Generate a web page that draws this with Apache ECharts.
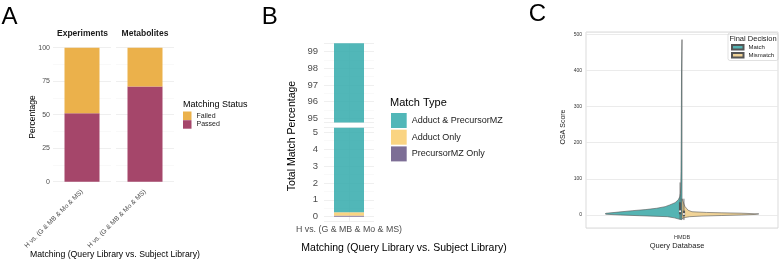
<!DOCTYPE html>
<html>
<head>
<meta charset="utf-8">
<script src="https://cdn.jsdelivr.net/npm/echarts@6/dist/echarts.min.js"></script>
<style>
  html, body { margin: 0; padding: 0; background: #fff; }
  #chart { width: 779px; height: 260px; }
</style>
</head>
<body>
<div id="chart"></div>
<script>
// ---- panel A: matching status per facet ----
const facets = ['Experiments', 'Metabolites'];
const comparison = ['H vs. (G & MB & Mo & MS)'];
const passedPct = [51, 71];
const failedPct = [49, 29];

// ---- panel B: match type, broken y axis ----
const matchTypes = ['Adduct & PrecursorMZ', 'Adduct Only', 'PrecursorMZ Only'];
const matchTypePct = [99.24, 0.2, 0.06];
const upperRange = [94.75, 99.5];
const lowerRange = [-0.25, 5.27];

// ---- panel C: split violin of OSA score ----
const queryDb = ['HMDB'];
const decisions = ['Match', 'Mismatch'];
const matchScore = [-13, -12, -8, -4.7, -2, 0, 2, 3.3, 4.7, 8, 12, 15, 18.6, 23, 27.7, 34, 41.6, 50, 60, 80, 120, 200, 300, 400, 485];
const matchDensity = [0, 0.03, 0.1, 0.19, 0.55, 0.8, 0.99, 1, 0.99, 0.83, 0.64, 0.47, 0.33, 0.22, 0.16, 0.09, 0.05, 0.03, 0.02, 0.016, 0.013, 0.01, 0.008, 0.006, 0];
const mismatchScore = [-10, -7, -4.7, -3, -1.5, 0, 1.5, 3, 5, 6, 7, 9, 13, 18, 23, 30, 38, 45];
const mismatchDensity = [0, 0.04, 0.1, 0.26, 0.51, 0.77, 0.95, 1, 0.77, 0.51, 0.32, 0.13, 0.08, 0.06, 0.04, 0.026, 0.013, 0];
// side, low whisker, q1, median, q3, high whisker
const boxStats = [[-1, -12, 2, 10, 35, 90], [1, -14, -3, 3, 12, 45]];

const FONT = 'Liberation Sans';
const colA = { Passed: '#A5466A', Failed: '#EBB14B' };
const colB = { 'Adduct & PrecursorMZ': '#33AAAB', 'Adduct Only': '#F9CD6C', 'PrecursorMZ Only': '#665584' };
const colC = { Match: '#55B4B3', Mismatch: '#F0D397' };
const VIOLIN_HALF = 0.4;

const gridLine = { show: true, lineStyle: { color: '#EBEBEB', width: 0.8 } };
const minorLine = { show: true, lineStyle: { color: '#F2F2F2', width: 0.5 } };

function text(str, x, y, size, extra) {
  extra = extra || {};
  return {
    type: 'text', x: x, y: y, rotation: extra.rotation || 0, silent: true,
    style: {
      text: str, fontSize: size, fontFamily: FONT, fill: extra.color || '#000',
      fontWeight: extra.weight || 'normal', align: extra.align || 'center', verticalAlign: 'middle'
    }
  };
}

const grid = [
  { left: 53, top: 47.7, width: 58, height: 134, outerBoundsMode: 'none' },
  { left: 116, top: 47.7, width: 58, height: 134, outerBoundsMode: 'none' },
  { left: 324, top: 43.2, width: 50, height: 79.3, outerBoundsMode: 'none' },
  { left: 324, top: 127.7, width: 50, height: 93.2, outerBoundsMode: 'none' },
  { left: 586, top: 32, width: 192, height: 196, show: true, borderColor: '#D2D2D2', borderWidth: 0.8, outerBoundsMode: 'none' }
];

const xAxis = [];
const yAxis = [];
facets.forEach(function (f, i) {
  xAxis.push({
    type: 'category', gridIndex: i, data: comparison,
    axisLine: { show: false }, axisTick: { show: false }, splitLine: { show: false },
    axisLabel: { rotate: 45, fontSize: 6.6, fontFamily: FONT, color: '#4D4D4D', margin: 9 }
  });
  yAxis.push({
    type: 'value', gridIndex: i, min: 0, max: 100, interval: 25,
    axisLine: { show: false }, axisTick: { show: false },
    axisLabel: { show: i === 0, fontSize: 7, fontFamily: FONT, color: '#4D4D4D', margin: 3, showMinLabel: true, showMaxLabel: true },
    splitLine: gridLine, minorTick: { show: false, splitNumber: 2 }, minorSplitLine: minorLine
  });
});
[upperRange, lowerRange].forEach(function (r, k) {
  xAxis.push({
    type: 'category', gridIndex: 2 + k, data: comparison, boundaryGap: false,
    axisLine: { show: false }, axisTick: { show: false }, splitLine: gridLine,
    axisLabel: { show: k === 1, fontSize: 8.8, fontFamily: FONT, color: '#4D4D4D', margin: 4 }
  });
  yAxis.push({
    type: 'value', gridIndex: 2 + k, min: r[0], max: r[1], splitNumber: 5,
    axisLine: { show: false }, axisTick: { show: false },
    axisLabel: { fontSize: 9.5, fontFamily: FONT, color: '#4D4D4D', margin: 6, showMinLabel: false, showMaxLabel: false },
    splitLine: gridLine, minorTick: { show: false, splitNumber: 2 }, minorSplitLine: minorLine
  });
});
xAxis.push({ type: 'value', gridIndex: 4, min: -0.5, max: 0.5, show: false, position: 'bottom' });
xAxis.push({
  type: 'category', gridIndex: 4, data: queryDb, position: 'bottom',
  axisLine: { show: false }, axisTick: { show: false }, splitLine: { show: false },
  axisLabel: { fontSize: 5.5, fontFamily: FONT, color: '#333', margin: 6 }
});
yAxis.push({
  type: 'value', gridIndex: 4, min: -36, max: 506, splitNumber: 5,
  axisLine: { show: false }, axisTick: { show: false },
  axisLabel: { fontSize: 5, fontFamily: FONT, color: '#333', margin: 4, showMinLabel: false, showMaxLabel: false },
  splitLine: { show: true, lineStyle: { color: '#E6E6E6', width: 0.8 } }
});

const series = [];
facets.forEach(function (f, i) {
  [['Passed', passedPct], ['Failed', failedPct]].forEach(function (p) {
    series.push({
      type: 'bar', name: p[0], xAxisIndex: i, yAxisIndex: i, stack: 'facet' + i,
      data: [p[1][i]], barWidth: 35, itemStyle: { color: colA[p[0]] }, silent: true
    });
  });
});
[2, 3].forEach(function (g) {
  // bottom of the stack first
  for (let j = matchTypes.length - 1; j >= 0; j--) {
    series.push({
      type: 'bar', name: matchTypes[j], xAxisIndex: g, yAxisIndex: g, stack: 'b' + g,
      data: [matchTypePct[j]], barWidth: 30, clip: true, silent: true,
      itemStyle: { color: colB[matchTypes[j]], opacity: 0.85 }
    });
  }
});

function violinItem(params, api) {
  if (params.dataIndexInside !== 0) return;
  const n = params.dataInsideLength;
  const pts = [api.coord([0, api.value(1, 0)])];
  for (let i = 0; i < n; i++) pts.push(api.coord([api.value(0, i), api.value(1, i)]));
  pts.push(api.coord([0, api.value(1, n - 1)]));
  return {
    type: 'polygon', shape: { points: pts },
    style: { fill: api.visual('color'), stroke: '#555', lineWidth: 0.6 }
  };
}
[[decisions[0], matchScore, matchDensity, -1], [decisions[1], mismatchScore, mismatchDensity, 1]].forEach(function (v) {
  series.push({
    type: 'custom', name: v[0], xAxisIndex: 4, yAxisIndex: 4, silent: true,
    itemStyle: { color: colC[v[0]], borderColor: '#555', borderWidth: 0.5 },
    data: v[1].map(function (s, i) { return [v[3] * v[2][i] * VIOLIN_HALF, s]; }),
    renderItem: violinItem
  });
});
series.push({
  type: 'custom', xAxisIndex: 4, yAxisIndex: 4, silent: true, z: 5,
  data: boxStats,
  renderItem: function (params, api) {
    const side = api.value(0);
    const x0 = side * 0.004, x1 = side * 0.016;
    const lo = api.coord([side * 0.01, api.value(1)]);
    const hi = api.coord([side * 0.01, api.value(5)]);
    const q1 = api.coord([x0, api.value(2)]);
    const q3 = api.coord([x1, api.value(4)]);
    const med = api.coord([side * 0.01, api.value(3)]);
    return {
      type: 'group', children: [
        { type: 'line', shape: { x1: lo[0], y1: lo[1], x2: hi[0], y2: hi[1] }, style: { stroke: '#555', lineWidth: 0.8 } },
        { type: 'rect', shape: { x: Math.min(q1[0], q3[0]), y: q3[1], width: Math.abs(q3[0] - q1[0]), height: q1[1] - q3[1] }, style: { fill: '#555' } },
        { type: 'circle', shape: { cx: med[0], cy: med[1], r: 1 }, style: { fill: '#fff' } }
      ]
    };
  }
});

const graphic = [
  text('A', 9.5, 17.5, 24),
  text('B', 269.7, 17.5, 24),
  text('C', 537.5, 14.5, 24),
  text(facets[0], 82.5, 34, 8.5, { weight: 'bold', color: '#1A1A1A' }),
  text(facets[1], 145, 34, 8.5, { weight: 'bold', color: '#1A1A1A' }),
  text('Percentage', 33, 117, 8.5, { rotation: Math.PI / 2 }),
  text('Matching (Query Library vs. Subject Library)', 115, 255, 8.7),
  text('Matching Status', 183, 105, 9, { align: 'left' }),
  text('Total Match Percentage', 292.3, 136, 10.5, { rotation: Math.PI / 2 }),
  text('Matching (Query Library vs. Subject Library)', 404, 248.3, 10.5),
  text('Match Type', 390, 103, 11, { align: 'left' }),
  text('OSA Score', 563, 127, 7, { rotation: Math.PI / 2, color: '#222' }),
  text('Query Database', 677, 246, 7.5, { color: '#222' }),
  text('Final Decision', 753, 39, 7.5, { color: '#222' })
];

const legend = [
  {
    data: ['Failed', 'Passed'], left: 183, top: 111.5, orient: 'vertical', padding: 0,
    icon: 'rect', itemWidth: 8.5, itemHeight: 8.5, itemGap: 0.2, selectedMode: false,
    textStyle: { fontSize: 7, fontFamily: FONT, color: '#222' }
  },
  {
    data: matchTypes, left: 391, top: 113, orient: 'vertical', padding: 0,
    icon: 'rect', itemWidth: 15.7, itemHeight: 15, itemGap: 1.7, selectedMode: false,
    textStyle: { fontSize: 9, fontFamily: FONT, color: '#222' }
  },
  {
    data: decisions, left: 728, top: 33, orient: 'vertical', padding: [11, 4, 2, 3],
    icon: 'rect', itemWidth: 11.5, itemHeight: 4.5, itemGap: 1.5, selectedMode: false,
    borderColor: '#CCCCCC', borderWidth: 0.6, borderRadius: 2,
    textStyle: { fontSize: 6, fontFamily: FONT, color: '#222' }
  }
];

const chart = echarts.init(document.getElementById('chart'), null, { renderer: 'canvas' });
chart.setOption({
  animation: false,
  backgroundColor: '#fff',
  grid: grid,
  xAxis: xAxis,
  yAxis: yAxis,
  legend: legend,
  graphic: graphic,
  series: series
});
</script>
</body>
</html>
